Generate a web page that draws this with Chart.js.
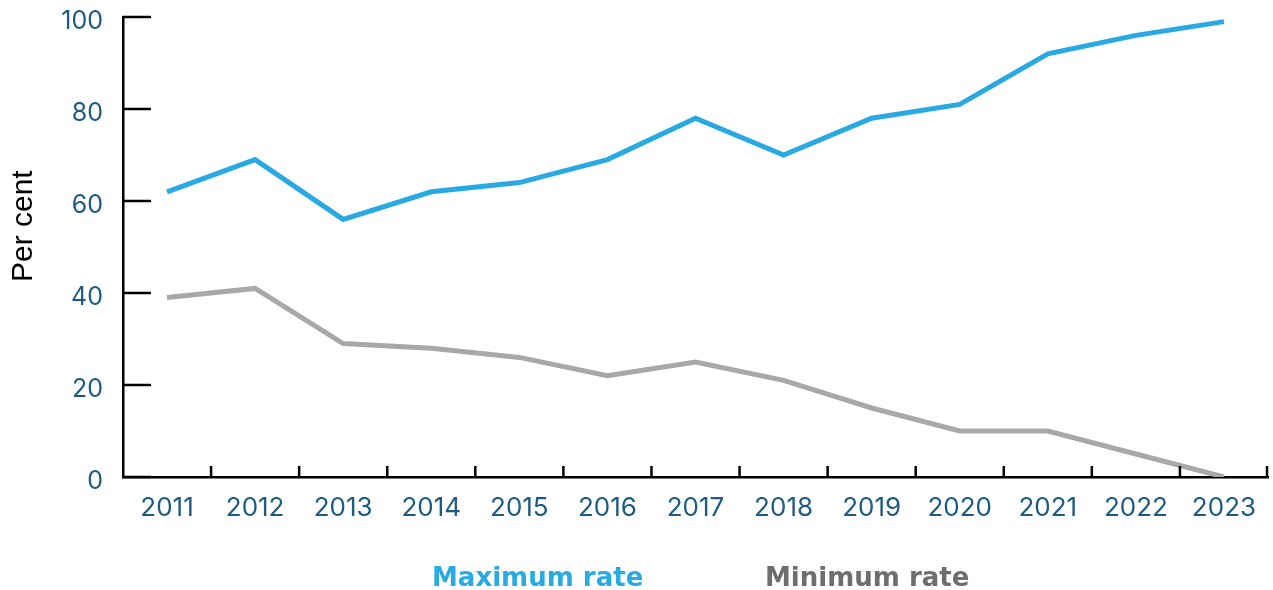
<!DOCTYPE html>
<html>
<head>
<meta charset="utf-8">
<script src="https://cdn.jsdelivr.net/npm/chart.js@4.4.1/dist/chart.umd.min.js"></script>
<style>
  html, body { margin: 0; padding: 0; background: #fff; }
  #wrap { position: relative; width: 1273px; height: 590px; }
  #legend {
    position: absolute; left: 0; top: 562px; width: 1273px; height: 40px;
    font-family: "DejaVu Sans", sans-serif; font-weight: bold; font-size: 26px;
  }
  #legend span { position: absolute; top: 0; white-space: nowrap; }
</style>
</head>
<body>
<div id="wrap">
  <canvas id="rates" width="1273" height="590"></canvas>
  <div id="legend">
    <span style="left: 432px; color: #29abe2;">Maximum rate</span>
    <span style="left: 765px; color: #6d6e71;">Minimum rate</span>
  </div>
</div>
<script>
const years = ["2011", "2012", "2013", "2014", "2015", "2016", "2017", "2018", "2019", "2020", "2021", "2022", "2023"];
const maxRate = [62, 69, 56, 62, 64, 69, 78, 70, 78, 81, 92, 96, 99];
const minRate = [39, 41, 29, 28, 26, 22, 25, 21, 15, 10, 10, 5, 0];
const yTicks = [0, 20, 40, 60, 80, 100];

const blue = "#29a9e1";
const grey = "#a7a8ab";
const tickText = "#1e5b80";
const fontFamily = "Inter, 'Open Sans', sans-serif";

// tick marks: y ticks point right into the plot, x ticks point up between years
const axisTicks = {
  id: "axisTicks",
  afterDraw(chart) {
    const ctx = chart.ctx;
    const x = chart.scales.x;
    const y = chart.scales.y;
    const area = chart.chartArea;
    ctx.save();
    ctx.strokeStyle = "#000";
    ctx.lineWidth = 2.5;
    ctx.beginPath();
    yTicks.forEach((v) => {
      const py = y.getPixelForValue(v);
      ctx.moveTo(area.left, py);
      ctx.lineTo(area.left + 28, py);
    });
    for (let i = 1; i <= years.length; i++) {
      let px;
      if (i < years.length) {
        px = (x.getPixelForValue(i - 1) + x.getPixelForValue(i)) / 2;
      } else {
        px = area.right - 1;
      }
      ctx.moveTo(px, area.bottom);
      ctx.lineTo(px, area.bottom - 11);
    }
    ctx.stroke();
    ctx.restore();
  },
};

new Chart(document.getElementById("rates"), {
  type: "line",
  data: {
    labels: years,
    datasets: [
      {
        label: "Maximum rate",
        data: maxRate,
        borderColor: blue,
        borderWidth: 5,
        pointRadius: 0,
        tension: 0,
      },
      {
        label: "Minimum rate",
        data: minRate,
        borderColor: grey,
        borderWidth: 5,
        pointRadius: 0,
        tension: 0,
      },
    ],
  },
  options: {
    responsive: false,
    animation: false,
    layout: {
      padding: { top: 2, right: 5, left: 6, bottom: 69 },
    },
    scales: {
      x: {
        offset: true,
        grid: { display: false, drawTicks: false },
        border: { display: true, color: "#000", width: 2.5 },
        afterFit: (scale) => {
          scale.height = 44;
        },
        ticks: {
          color: tickText,
          padding: 16,
          maxRotation: 0,
          font: { family: fontFamily, size: 26 },
        },
      },
      y: {
        min: 0,
        max: 100,
        afterBuildTicks: (scale) => {
          scale.ticks = yTicks.map((v) => ({ value: v }));
        },
        afterFit: (scale) => {
          scale.width = 117;
          scale.paddingTop = 17;
          scale.paddingBottom = 0;
        },
        grid: { display: false, drawTicks: false },
        border: { display: true, color: "#000", width: 2.5 },
        ticks: {
          color: tickText,
          padding: 20,
          labelOffset: 4,
          font: { family: fontFamily, size: 25 },
        },
        title: {
          display: true,
          text: "     Per cent",
          color: "#000",
          padding: { top: 0, bottom: 0 },
          font: { family: "'Liberation Sans', Arial, sans-serif", size: 30 },
        },
      },
    },
    plugins: {
      tooltip: { enabled: false },
      legend: { display: false },
    },
  },
  plugins: [axisTicks],
});
</script>
</body>
</html>
